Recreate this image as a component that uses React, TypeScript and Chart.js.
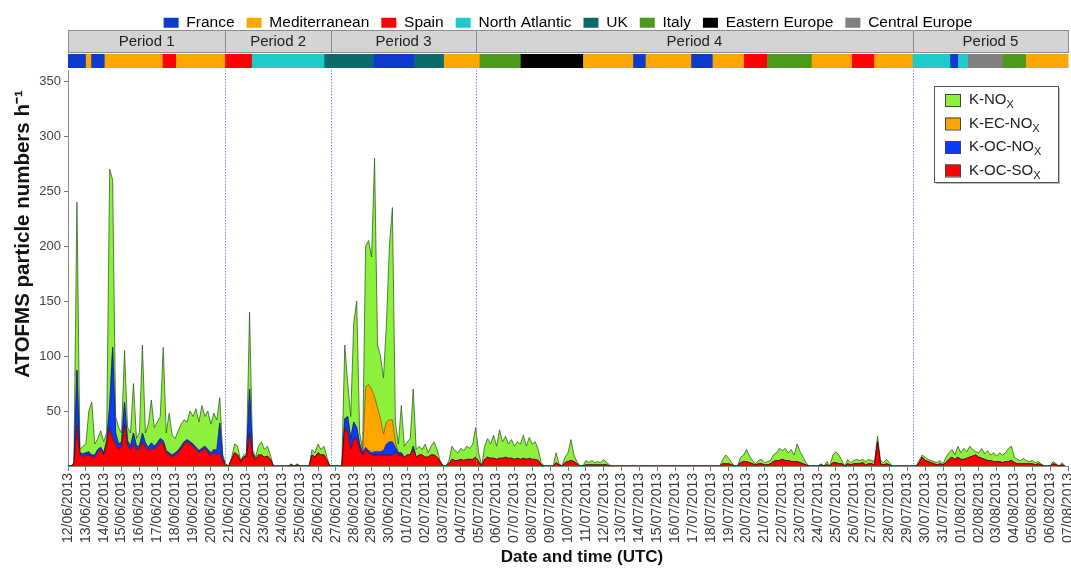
import React, { useEffect, useRef } from 'react';
import { Chart, registerables } from 'chart.js';
Chart.register(...registerables);

const FONT = '"Liberation Sans", Arial, sans-serif';

// x tick labels (one per day, value = day index from 12/06/2013 00:00)
const tickLabels = [
  '12/06/2013', '13/06/2013', '14/06/2013', '15/06/2013', '16/06/2013', '17/06/2013', '18/06/2013',
  '19/06/2013', '20/06/2013', '21/06/2013', '22/06/2013', '23/06/2013', '24/06/2013', '25/06/2013',
  '26/06/2013', '27/06/2013', '28/06/2013', '29/06/2013', '30/06/2013', '01/07/2013', '02/07/2013',
  '03/07/2013', '04/07/2013', '05/07/2013', '06/07/2013', '07/07/2013', '08/07/2013', '09/07/2013',
  '10/07/2013', '11/07/2013', '12/07/2013', '13/07/2013', '14/07/2013', '15/07/2013', '16/07/2013',
  '17/07/2013', '18/07/2013', '19/07/2013', '20/07/2013', '21/07/2013', '22/07/2013', '23/07/2013',
  '24/07/2013', '25/07/2013', '26/07/2013', '27/07/2013', '28/07/2013', '29/07/2013', '30/07/2013',
  '31/07/2013', '01/08/2013', '02/08/2013', '03/08/2013', '04/08/2013', '05/08/2013', '06/08/2013',
  '07/08/2013',
];
const yTicks = [50, 100, 150, 200, 250, 300, 350];
const xTitle = 'Date and time (UTC)';
const yTitle = 'ATOFMS particle numbers h\u207B\u00B9';

// air-mass origin legend
const regionNames = ['France', 'Mediterranean', 'Spain', 'North Atlantic', 'UK', 'Italy', 'Eastern Europe', 'Central Europe'];
const regionColors = ['#0d3ccc', '#ffa600', '#ff0000', '#1fcaca', '#0b6a6a', '#4b9a1c', '#000000', '#808080'];

// periods (bounds in days since 12/06/2013 00:00)
const periodLabels = ['Period 1', 'Period 2', 'Period 3', 'Period 4', 'Period 5'];
const periodBounds = [0, 8.8, 14.73, 22.85, 47.32, 56];

// air-mass segments (bounds in days) and their region index
const airMassBounds = [0, 1.0, 1.3, 2.05, 5.3, 6.05, 8.8, 10.3, 14.35, 17.1, 19.4, 21.05, 23.05, 25.35, 28.85, 31.65,
  32.35, 34.9, 36.1, 37.85, 39.15, 41.65, 43.9, 45.15, 47.3, 49.4, 49.85, 50.4, 52.35, 53.65, 56];
const airMassRegion = [0, 1, 0, 1, 2, 1, 2, 3, 4, 0, 4, 1, 5, 6, 1, 0, 1, 0, 1, 2, 5, 1, 2, 1, 3, 0, 3, 7, 5, 1];

// series: 4-hourly values (6 per day), one row per day starting 12/06/2013
const slotsPerDay = 6;
const kOcSox = [
  0, 0, 2, 37, 10, 8,
  10, 10, 8, 8, 12, 15,
  10, 20, 35, 25, 20, 15,
  18, 38, 18, 15, 20, 15,
  15, 22, 17, 14, 16, 15,
  18, 22, 20, 12, 10, 8,
  10, 12, 16, 20, 22, 20,
  18, 15, 12, 14, 16, 12,
  10, 12, 10, 12, 4, 1,
  0, 6, 12, 10, 4, 8,
  8, 30, 10, 6, 10, 10,
  8, 9, 6, 0, 0, 0,
  0, 0, 0, 1, 0, 1,
  0, 0, 0, 0, 10, 8,
  12, 10, 10, 5, 0, 0,
  0, 0, 0, 35, 30, 15,
  25, 25, 15, 10, 15, 12,
  10, 10, 10, 10, 10, 10,
  10, 10, 12, 10, 10, 8,
  10, 10, 15, 8, 10, 10,
  8, 8, 10, 10, 8, 4,
  0, 0, 2, 6, 5, 5,
  6, 5, 6, 6, 6, 8,
  4, 0, 6, 8, 7, 7,
  6, 7, 7, 8, 7, 7,
  6, 7, 6, 7, 6, 7,
  6, 6, 5, 1, 0, 0,
  0, 0, 3, 1, 0, 3,
  4, 5, 4, 2, 0, 0,
  1, 1, 1, 1, 1, 1,
  1, 1, 0, 0, 0, 0,
  0, 0, 0, 0, 0, 0,
  0, 0, 0, 0, 0, 0,
  0, 0, 0, 0, 0, 0,
  0, 0, 0, 0, 0, 0,
  0, 0, 0, 0, 0, 0,
  0, 0, 0, 0, 2, 2,
  2, 1, 0, 0, 3, 4,
  4, 3, 2, 1, 2, 2,
  1, 1, 2, 4, 5, 5,
  6, 5, 5, 4, 4, 4,
  3, 2, 1, 0, 0, 0,
  0, 1, 0, 1, 0, 3,
  3, 2, 2, 0, 2, 1,
  2, 2, 2, 3, 1, 2,
  2, 1, 22, 2, 1, 2,
  1, 0, 0, 0, 0, 0,
  0, 0, 0, 0, 3, 8,
  5, 4, 3, 2, 1, 2,
  1, 3, 6, 8, 6, 8,
  6, 6, 7, 8, 9, 10,
  8, 7, 6, 5, 5, 4,
  4, 4, 3, 4, 4, 5,
  3, 2, 2, 2, 2, 2,
  2, 1, 2, 1, 0, 0,
  0, 2, 1, 0, 1, 0,
];
const kOcNox = [
  0, 0, 0, 50, 2, 3,
  2, 3, 2, 2, 3, 2,
  2, 3, 20, 83, 10, 5,
  4, 20, 5, 3, 10, 3,
  3, 8, 4, 3, 5, 3,
  3, 3, 3, 2, 2, 2,
  2, 2, 2, 2, 2, 2,
  2, 2, 2, 2, 2, 3,
  2, 3, 4, 27, 3, 0,
  0, 0, 0, 0, 0, 0,
  2, 40, 2, 0, 0, 0,
  0, 0, 0, 0, 0, 0,
  0, 0, 0, 0, 0, 0,
  0, 0, 0, 0, 0, 0,
  0, 0, 0, 0, 0, 0,
  0, 0, 0, 8, 15, 10,
  15, 10, 5, 2, 2, 2,
  2, 3, 3, 3, 4, 10,
  12, 12, 5, 2, 2, 0,
  0, 0, 3, 0, 0, 0,
];
const kEcNox = [
  0, 0, 0, 0, 0, 0, 0, 0, 0, 0, 0, 0, 0, 0, 0, 0, 0, 0, 0, 0, 0, 0, 0, 0,
  0, 0, 0, 0, 0, 0, 0, 0, 0, 0, 0, 0, 0, 0, 0, 0, 0, 0, 0, 0, 0, 0, 0, 0,
  0, 0, 0, 0, 0, 0, 0, 0, 0, 0, 0, 0, 0, 0, 0, 0, 0, 0, 0, 0, 0, 0, 0, 0,
  0, 0, 0, 0, 0, 0, 0, 0, 0, 0, 0, 0, 0, 0, 0, 0, 0, 0, 0, 0, 0, 0, 0, 0,
  // 28/06 - 30/06
  0, 0, 0, 0, 55, 60,
  58, 50, 40, 30, 15, 20,
  20, 20, 5, 0, 0, 0,
];
const kNox = [
  0, 0, 1, 153, 3, 7,
  8, 37, 48, 10, 10, 15,
  10, 7, 215, 152, 15, 15,
  8, 47, 12, 12, 45, 7,
  12, 80, 9, 21, 39, 17,
  19, 20, 85, 16, 36, 18,
  13, 18, 20, 20, 16, 28,
  25, 35, 26, 39, 27, 35,
  26, 33, 28, 23, 3, 1,
  0, 2, 8, 8, 1, 2,
  2, 70, 3, 2, 8, 12,
  7, 9, 4, 0, 0, 0,
  0, 0, 0, 1, 0, 1,
  0, 0, 0, 0, 5, 4,
  8, 5, 8, 3, 0, 0,
  0, 0, 0, 67, 30, 20,
  90, 115, 10, 3, 128, 131,
  120, 217, 57, 57, 51, 90,
  158, 193, 18, 8, 43, 10,
  12, 15, 52, 7, 8, 5,
  12, 4, 8, 12, 7, 1,
  0, 0, 3, 12, 9, 7,
  10, 9, 12, 10, 14, 27,
  8, 0, 12, 17, 13, 21,
  12, 26, 15, 19, 13, 17,
  12, 15, 14, 21, 12, 19,
  14, 16, 10, 2, 0, 0,
  0, 0, 9, 1, 0, 5,
  8, 19, 6, 2, 0, 0,
  4, 2, 4, 2, 3, 2,
  5, 2, 1, 0, 0, 0,
  0, 0, 0, 0, 0, 0,
  0, 0, 0, 0, 0, 0,
  0, 0, 0, 0, 0, 0,
  0, 0, 0, 0, 0, 0,
  0, 0, 0, 0, 0, 0,
  0, 0, 0, 0, 4, 8,
  5, 2, 0, 0, 5, 6,
  11, 6, 3, 1, 3, 4,
  2, 3, 3, 6, 7, 11,
  8, 11, 7, 11, 6, 16,
  10, 6, 2, 0, 0, 0,
  0, 1, 0, 3, 0, 7,
  10, 8, 3, 0, 4, 2,
  3, 4, 3, 3, 3, 4,
  3, 3, 5, 3, 2, 4,
  2, 0, 0, 0, 0, 0,
  0, 0, 0, 0, 2, 2,
  3, 2, 2, 2, 2, 3,
  1, 5, 6, 7, 4, 10,
  6, 10, 6, 10, 6, 3,
  4, 9, 5, 9, 5, 8,
  5, 8, 7, 8, 12, 13,
  5, 4, 3, 5, 3, 2,
  3, 2, 2, 1, 0, 0,
  0, 2, 1, 0, 2, 0,
];

const seriesNames = ['K-OC-SO', 'K-OC-NO', 'K-EC-NO', 'K-NO'];
const seriesColors = ['#ff0000', '#0a3cff', '#ffa500', '#8cf03c'];
const seriesBorders = ['#4a0000', '#001a6e', '#6e4600', '#1f4f12'];

const nDays = tickLabels.length - 1;
const toPoints = (arr: number[]) => {
  const pts: { x: number; y: number }[] = [];
  for (let i = 0; i < nDays * slotsPerDay; i++) pts.push({ x: i / slotsPerDay, y: arr[i] ?? 0 });
  return pts;
};

const decorPlugin = {
  id: 'decor',
  beforeInit(chart: any) {
    const lg = chart.legend;
    if (lg) {
      const orig = lg.fit;
      lg.fit = function () {
        orig.call(this);
        this.height = 67;
      };
    }
  },
  afterDatasetsDraw(chart: any) {
    const { ctx, chartArea } = chart;
    const xs = chart.scales.x;
    ctx.save();
    ctx.strokeStyle = '#7092e6';
    ctx.lineWidth = 1;
    ctx.setLineDash([1.5, 1.5]);
    for (let i = 1; i < periodBounds.length - 1; i++) {
      const px = Math.round(xs.getPixelForValue(periodBounds[i])) + 0.5;
      ctx.beginPath();
      ctx.moveTo(px, chartArea.top);
      ctx.lineTo(px, chartArea.bottom);
      ctx.stroke();
    }
    ctx.restore();
  },
  afterDraw(chart: any) {
    const { ctx } = chart;
    const xs = chart.scales.x;
    ctx.save();
    // period bar
    const pTop = 30, pBot = 52;
    for (let i = 0; i < periodLabels.length; i++) {
      const x0 = xs.getPixelForValue(periodBounds[i]);
      const x1 = xs.getPixelForValue(periodBounds[i + 1]);
      ctx.fillStyle = '#d4d4d4';
      ctx.fillRect(x0, pTop, x1 - x0, pBot - pTop);
      ctx.strokeStyle = '#8c8c8c';
      ctx.lineWidth = 1;
      ctx.strokeRect(Math.round(x0) + 0.5, pTop + 0.5, Math.round(x1 - x0), pBot - pTop);
      ctx.fillStyle = '#222';
      ctx.font = `15px ${FONT}`;
      ctx.textAlign = 'center';
      ctx.textBaseline = 'middle';
      ctx.fillText(periodLabels[i], (x0 + x1) / 2, (pTop + pBot) / 2 + 1);
    }
    // air-mass colour bar
    const cTop = 54, cBot = 68;
    for (let i = 0; i < airMassRegion.length; i++) {
      const x0 = xs.getPixelForValue(airMassBounds[i]);
      const x1 = xs.getPixelForValue(airMassBounds[i + 1]);
      ctx.fillStyle = regionColors[airMassRegion[i]];
      ctx.fillRect(x0, cTop, x1 - x0 + 0.5, cBot - cTop);
    }
    // axis titles
    ctx.fillStyle = '#111';
    ctx.font = `bold 17px ${FONT}`;
    ctx.textAlign = 'center';
    ctx.textBaseline = 'middle';
    ctx.fillText(xTitle, 582, 557);
    ctx.save();
    ctx.translate(23, 234);
    ctx.rotate(-Math.PI / 2);
    ctx.font = `bold 20.5px ${FONT}`;
    ctx.fillText(yTitle, 0, 0);
    ctx.restore();
    // inner legend
    const lx = 934, ly = 86, lw = 124, lh = 96;
    ctx.fillStyle = '#bbbbbb';
    ctx.fillRect(lx + 2, ly + 2, lw, lh);
    ctx.fillStyle = '#ffffff';
    ctx.fillRect(lx, ly, lw, lh);
    ctx.strokeStyle = '#555';
    ctx.lineWidth = 1;
    ctx.strokeRect(lx + 0.5, ly + 0.5, lw, lh);
    const order = [3, 2, 1, 0];
    order.forEach((si, r) => {
      const cy = 100 + r * 23.5;
      ctx.fillStyle = seriesColors[si];
      ctx.fillRect(945, cy - 6, 15, 12);
      ctx.strokeStyle = '#444';
      ctx.strokeRect(945.5, cy - 5.5, 15, 12);
      ctx.fillStyle = '#222';
      ctx.textAlign = 'left';
      ctx.textBaseline = 'middle';
      ctx.font = `15px ${FONT}`;
      ctx.fillText(seriesNames[si], 969, cy);
      const w = ctx.measureText(seriesNames[si]).width;
      ctx.font = `11px ${FONT}`;
      ctx.fillText('X', 969 + w, cy + 5);
    });
    ctx.restore();
  },
};

export default function App() {
  const ref = useRef<HTMLCanvasElement | null>(null);
  useEffect(() => {
    if (!ref.current) return;
    Chart.defaults.font.family = FONT;
    const datasets = [kOcSox, kOcNox, kEcNox, kNox].map((arr, i) => ({
      label: seriesNames[i] + 'x',
      data: toPoints(arr),
      backgroundColor: seriesColors[i],
      borderColor: seriesBorders[i],
      borderWidth: 0.7,
      pointRadius: 0,
      tension: 0,
      fill: i === 0 ? 'origin' : '-1',
    }));
    const chart = new Chart(ref.current, {
      type: 'line',
      data: { datasets },
      plugins: [decorPlugin],
      options: {
        responsive: false,
        animation: false,
        events: [],
        layout: { padding: { top: 3, right: 3, left: 0, bottom: 0 } },
        plugins: {
          tooltip: { enabled: false },
          legend: {
            position: 'top',
            fullSize: false,
            onClick: () => {},
            labels: {
              boxWidth: 15,
              boxHeight: 10,
              padding: 12,
              color: '#222',
              font: { size: 15.5, family: FONT },
              generateLabels: () =>
                regionNames.map((n, i) => ({
                  text: n,
                  fillStyle: regionColors[i],
                  strokeStyle: regionColors[i],
                  lineWidth: 0,
                  hidden: false,
                  datasetIndex: 0,
                })),
            },
          },
        },
        scales: {
          x: {
            type: 'linear',
            min: 0,
            max: nDays,
            afterBuildTicks: (s: any) => {
              s.ticks = tickLabels.map((_, i) => ({ value: i }));
            },
            afterFit: (s: any) => {
              s.height = 102;
              s.paddingRight = 0;
              s.paddingLeft = 0;
            },
            ticks: {
              autoSkip: false,
              maxRotation: 90,
              minRotation: 90,
              padding: 2,
              color: '#3a3a3a',
              font: { size: 14, family: FONT },
              callback: (_v: any, i: number) => tickLabels[i] ?? '',
            },
            grid: { drawOnChartArea: false, tickLength: 5, color: '#777' },
            border: { color: '#888' },
            title: { display: false, text: xTitle },
          },
          y: {
            stacked: true,
            min: 0,
            max: 360,
            afterBuildTicks: (s: any) => {
              s.ticks = yTicks.map((v) => ({ value: v }));
            },
            afterFit: (s: any) => {
              s.width = 68;
            },
            ticks: { color: '#444', font: { size: 13, family: FONT }, padding: 3 },
            grid: { drawOnChartArea: false, tickLength: 4, color: '#777' },
            border: { color: '#888' },
            title: { display: false, text: yTitle },
          },
        },
      } as any,
    });
    return () => chart.destroy();
  }, []);
  return (
    <div style={{ position: 'absolute', left: 0, top: 0, width: 1071, height: 568, background: '#fff' }}>
      <canvas ref={ref} width={1071} height={568} style={{ display: 'block' }} />
    </div>
  );
}
